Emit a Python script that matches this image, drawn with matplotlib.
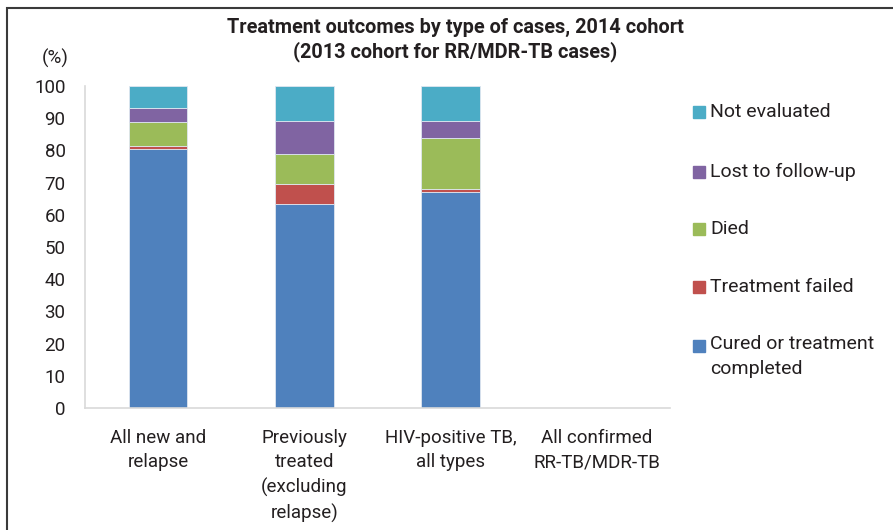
import matplotlib
matplotlib.use("Agg")
import matplotlib.pyplot as plt
import numpy as np
from matplotlib.patches import Rectangle

plt.rcParams['font.family'] = ['Roboto', 'DejaVu Sans']

categories = ["All new and\nrelapse",
              "Previously\ntreated\n(excluding\nrelapse)",
              "HIV-positive TB,\nall types",
              "All confirmed\nRR-TB/MDR-TB"]

# percentages per outcome, one value per category (no data for RR/MDR-TB)
cured = [80.3, 63.3, 67.2, 0]
failed = [1.1, 6.2, 0.8, 0]
died = [7.4, 9.3, 15.9, 0]
lost = [4.5, 10.4, 5.3, 0]
not_evaluated = [6.7, 10.8, 10.8, 0]

series = [
    ("Cured or treatment\ncompleted", cured, "#4F81BD"),
    ("Treatment failed", failed, "#C0504D"),
    ("Died", died, "#9BBB59"),
    ("Lost to follow-up", lost, "#8064A2"),
    ("Not evaluated", not_evaluated, "#4BACC6"),
]

yticks = list(range(0, 101, 10))

FS = 13.5
TXT = "#231f20"

fig = plt.figure(figsize=(8.93, 5.30), dpi=100)
ax = fig.add_axes([0.0952, 0.2302, 0.655, 0.6075])

x = np.arange(len(categories))
bottom = np.zeros(len(categories))
for name, vals, color in series:
    vals = np.array(vals, dtype=float)
    ax.bar(x, vals, width=0.4, bottom=bottom, color=color,
           edgecolor="#dfe6f0", linewidth=0.6)
    bottom += vals

ax.set_xlim(-0.5, len(categories) - 0.5)
ax.set_ylim(0, 100)
ax.set_yticks(yticks)
ax.set_xticks(x)
ax.set_xticklabels(categories, fontsize=FS, color=TXT, linespacing=1.45)
ax.tick_params(axis="y", length=0, pad=14, labelsize=FS, labelcolor=TXT)
ax.tick_params(axis="x", length=0, pad=15)
for side in ("top", "right"):
    ax.spines[side].set_visible(False)
for side in ("left", "bottom"):
    ax.spines[side].set_color("#d9d9d9")
    ax.spines[side].set_linewidth(1.2)

fig.text(0.062, 1 - 58 / 530, "(%)", ha="center", va="center",
         fontsize=FS, color=TXT)
fig.text(455 / 893, 1 - 39.5 / 530,
         "Treatment outcomes by type of cases, 2014 cohort\n(2013 cohort for RR/MDR-TB cases)",
         ha="center", va="center", fontsize=14.3, fontweight="bold",
         color=TXT, linespacing=1.27)

# legend drawn top to bottom, reversed stacking order
leg_y = [112, 172, 229, 287, 346]
for (name, vals, color), yy in zip(series[::-1], leg_y):
    fy = 1 - yy / 530
    fig.patches.append(Rectangle((693 / 893, fy - 6 / 530), 12 / 893, 12 / 530,
                                 transform=fig.transFigure, color=color))
    if "\n" in name:
        fig.text(710 / 893, fy + 11 / 530, name, ha="left", va="top",
                 fontsize=14, color=TXT, linespacing=1.5)
    else:
        fig.text(710 / 893, fy, name, ha="left", va="center",
                 fontsize=14, color=TXT)

# outer frame
fig.patches.append(Rectangle((7 / 893, -0.05), 1.0, 1 - 8 / 530 + 0.05,
                             transform=fig.transFigure, fill=False,
                             edgecolor="#3a3a3a", linewidth=1.5))

fig.savefig("out.png", dpi=100)
